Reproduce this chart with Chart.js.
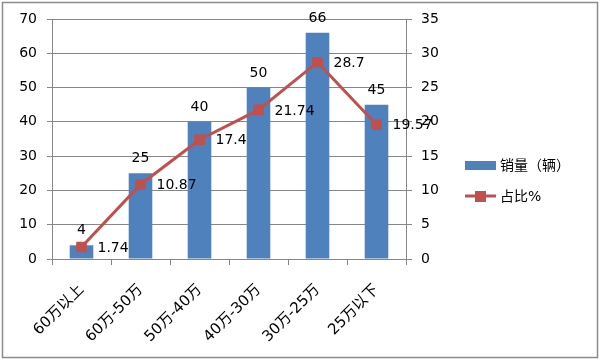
<!DOCTYPE html>
<html>
<head>
<meta charset="utf-8">
<script src="https://cdn.jsdelivr.net/npm/chart.js@4/dist/chart.umd.min.js"></script>
<style>
  html, body { margin: 0; padding: 0; background: #fff; }
  #wrap { width: 600px; height: 359px; position: relative; }
</style>
</head>
<body>
<div id="wrap"><canvas id="salesChart"></canvas></div>
<script>
// chart data
const categories = ["60万以上", "60万-50万", "50万-40万", "40万-30万", "30万-25万", "25万以下"];
const salesValues = [4, 25, 40, 50, 66, 45];
const shareValues = [1.74, 10.87, 17.4, 21.74, 28.7, 19.57];
const leftTicks = [0, 10, 20, 30, 40, 50, 60, 70];
const rightTicks = [0, 5, 10, 15, 20, 25, 30, 35];
const seriesNames = ["销量（辆）", "占比%"];

const FONT = "'DejaVu Sans', 'Noto Sans CJK SC', sans-serif";
const BLUE = "#4F81BD";
const RED = "#C0504D";
const GRID = "#878787";

// draws the outer frame, the value labels and the legend
const decorations = {
  id: "decorations",
  beforeDraw(chart) {
    const ctx = chart.ctx;
    ctx.save();
    ctx.fillStyle = "#fff";
    ctx.fillRect(0, 0, chart.width, chart.height);
    ctx.strokeStyle = "#8c8c8c";
    ctx.lineWidth = 1.5;
    ctx.strokeRect(2.5, 2.5, 595, 355);
    ctx.restore();
  },
  afterDatasetsDraw(chart) {
    const ctx = chart.ctx;
    ctx.save();
    ctx.font = "14px " + FONT;
    ctx.fillStyle = "#000";
    // bar values (dataset 1)
    const bars = chart.getDatasetMeta(1).data;
    ctx.textAlign = "center";
    ctx.textBaseline = "alphabetic";
    bars.forEach((bar, i) => {
      ctx.fillText(String(salesValues[i]), bar.x, bar.y - 11);
    });
    // line values (dataset 0)
    const pts = chart.getDatasetMeta(0).data;
    ctx.textAlign = "left";
    ctx.textBaseline = "middle";
    pts.forEach((p, i) => {
      ctx.fillText(String(shareValues[i]), p.x + 16, p.y + 1);
    });

    // legend
    const lx = 465, ly1 = 165, ly2 = 196;
    ctx.fillStyle = BLUE;
    ctx.fillRect(lx, ly1 - 4, 31, 9);
    ctx.strokeStyle = RED;
    ctx.lineWidth = 3;
    ctx.beginPath();
    ctx.moveTo(lx, ly2);
    ctx.lineTo(lx + 31, ly2);
    ctx.stroke();
    ctx.fillStyle = RED;
    ctx.fillRect(lx + 10, ly2 - 5, 11, 11);
    ctx.fillStyle = "#000";
    ctx.textAlign = "left";
    ctx.textBaseline = "middle";
    ctx.font = "14px " + FONT;
    ctx.fillText(seriesNames[0], lx + 35, ly1 + 1);
    ctx.fillText(seriesNames[1], lx + 35, ly2 + 1);
    ctx.restore();
  }
};

const ctx = document.getElementById("salesChart").getContext("2d");
new Chart(ctx, {
  data: {
    labels: categories,
    datasets: [
      {
        type: "line",
        label: seriesNames[1],
        data: shareValues,
        yAxisID: "yRight",
        borderColor: RED,
        backgroundColor: RED,
        borderWidth: 3,
        pointStyle: "rect",
        pointRadius: 7.5,
        pointBorderWidth: 0,
        pointBackgroundColor: RED,
        tension: 0,
        order: 0
      },
      {
        type: "bar",
        label: seriesNames[0],
        data: salesValues,
        yAxisID: "yLeft",
        backgroundColor: BLUE,
        borderWidth: 0,
        categoryPercentage: 1.0,
        barPercentage: 0.4,
        order: 1
      }
    ]
  },
  options: {
    responsive: true,
    maintainAspectRatio: false,
    animation: false,
    devicePixelRatio: 1,
    layout: { padding: { left: 0, right: 0, top: 19, bottom: 0 } },
    plugins: {
      legend: { display: false },
      tooltip: { enabled: false }
    },
    scales: {
      x: {
        offset: true,
        grid: {
          offset: true,
          drawOnChartArea: false,
          color: GRID,
          tickLength: 6
        },
        border: { color: GRID, width: 1 },
        ticks: {
          color: "#000",
          font: { family: FONT, size: 15 },
          minRotation: 45,
          maxRotation: 45,
          padding: 16
        },
        afterFit(scale) { scale.height = 100; }
      },
      yLeft: {
        position: "left",
        min: 0,
        max: 70,
        afterBuildTicks(scale) { scale.ticks = leftTicks.map(v => ({ value: v })); },
        grid: { color: GRID, tickLength: 5 },
        border: { color: GRID, width: 1 },
        ticks: {
          color: "#000",
          font: { family: FONT, size: 14 },
          padding: 10
        },
        afterFit(scale) { scale.width = 52; }
      },
      yRight: {
        position: "right",
        min: 0,
        max: 35,
        afterBuildTicks(scale) { scale.ticks = rightTicks.map(v => ({ value: v })); },
        grid: { drawOnChartArea: false, color: GRID, tickLength: 6 },
        border: { color: GRID, width: 1 },
        ticks: {
          color: "#000",
          font: { family: FONT, size: 14 },
          padding: 9
        },
        afterFit(scale) { scale.width = 194; }
      }
    }
  },
  plugins: [decorations]
});
</script>
</body>
</html>
